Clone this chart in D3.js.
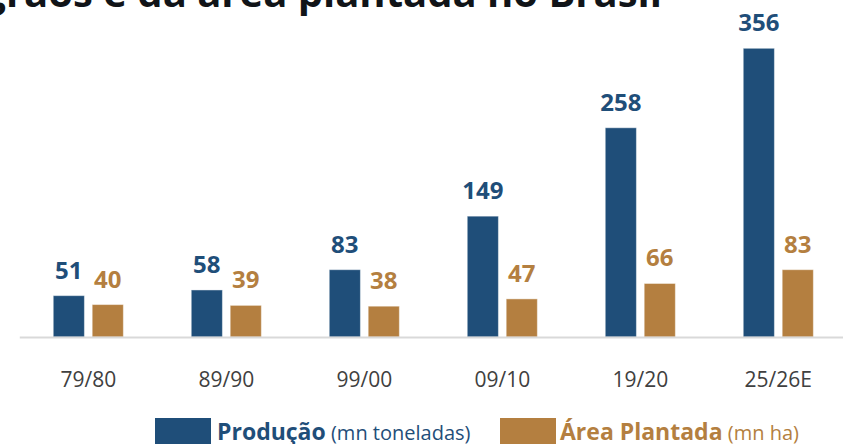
<!DOCTYPE html>
<html>
<head>
<meta charset="utf-8">
<script src="https://cdn.jsdelivr.net/npm/d3@7"></script>
<style>
	html, body { margin: 0; padding: 0; background: #fff; }
	svg { display: block; font-family: 'Open Sans', sans-serif; }
</style>
</head>
<body>
<svg id="chart"></svg>
<script>
	'use strict';
	var categories = ['79/80', '89/90', '99/00', '09/10', '19/20', '25/26E'];
	var series = ['producao', 'area'];
	var producao = [51, 58, 83, 149, 258, 356];
	var areaPlantada = [40, 39, 38, 47, 66, 83];
	var colors = {producao: '#1f4e79', area: '#b47f40'};

	var width = 843, height = 444;
	var baseY = 337;

	var svg = d3.select('#chart')
		.attr('width', width)
		.attr('height', height);

	// title, cut at the top edge of the picture
	svg.append('text')
		.attr('x', 662)
		.attr('y', 7)
		.attr('text-anchor', 'end')
		.attr('font-size', 40)
		.attr('font-weight', 700)
		.attr('fill', '#111418')
		.text('Evolução da produção de grãos e da área plantada no Brasil');

	var x = d3.scaleBand()
		.domain(categories)
		.range([19.3, 19.3 + 138 * categories.length])
		.padding(0);

	var xSub = d3.scaleBand()
		.domain(series)
		.range([x.bandwidth() * 0.246, x.bandwidth() * 0.754])
		.paddingInner(0.2);

	var y = d3.scaleLinear()
		.domain([0, 400])
		.range([baseY, baseY - 400 * 0.811]);

	var rows = categories.map(function (c, i) {
		return {cat: c, values: [
			{key: 'producao', v: producao[i]},
			{key: 'area', v: areaPlantada[i]}
		]};
	});

	var groups = svg.selectAll('g.grp')
		.data(rows)
		.enter().append('g')
		.attr('class', 'grp')
		.attr('transform', function (d) {
			return 'translate(' + x(d.cat) + ',0)';
		});

	groups.selectAll('rect')
		.data(function (d) { return d.values; })
		.enter().append('rect')
		.attr('x', function (d) { return xSub(d.key); })
		.attr('y', function (d) { return y(d.v); })
		.attr('width', xSub.bandwidth())
		.attr('height', function (d) { return baseY - y(d.v); })
		.attr('fill', function (d) { return colors[d.key]; })
		.attr('stroke', 'rgba(255,255,255,0.45)')
		.attr('stroke-width', 1);

	groups.selectAll('text.val')
		.data(function (d) { return d.values; })
		.enter().append('text')
		.attr('class', 'val')
		.attr('x', function (d) { return xSub(d.key) + xSub.bandwidth() / 2; })
		.attr('y', function (d) { return y(d.v) - 17; })
		.attr('text-anchor', 'middle')
		.attr('font-size', 24)
		.attr('font-weight', 700)
		.attr('fill', function (d) { return colors[d.key]; })
		.text(function (d) { return d.v; });

	// x axis
	var axis = svg.append('g')
		.attr('transform', 'translate(0,' + baseY + ')')
		.call(d3.axisBottom(x).tickSize(0).tickPadding(35));
	axis.select('.domain')
		.attr('stroke', '#d9d9d9')
		.attr('stroke-width', 2);
	axis.selectAll('.tick text')
		.attr('font-family', "'Open Sans', sans-serif")
		.attr('font-size', 21)
		.attr('fill', '#404040');

	// legend
	var legend = [
		{key: 'producao', bold: 'Produção', light: ' (mn toneladas)', x: 155, tx: 217},
		{key: 'area', bold: 'Área Plantada', light: ' (mn ha)', x: 500, tx: 560}
	];
	var lg = svg.selectAll('g.lg')
		.data(legend)
		.enter().append('g')
		.attr('class', 'lg');
	lg.append('rect')
		.attr('x', function (d) { return d.x; })
		.attr('y', 418)
		.attr('width', 56)
		.attr('height', 30)
		.attr('fill', function (d) { return colors[d.key]; });
	var lt = lg.append('text')
		.attr('x', function (d) { return d.tx; })
		.attr('y', 440)
		.attr('font-size', 23)
		.attr('fill', function (d) { return colors[d.key]; });
	lt.append('tspan')
		.attr('font-weight', 700)
		.text(function (d) { return d.bold; });
	lt.append('tspan')
		.attr('font-size', 20)
		.text(function (d) { return d.light; });
</script>
</body>
</html>
